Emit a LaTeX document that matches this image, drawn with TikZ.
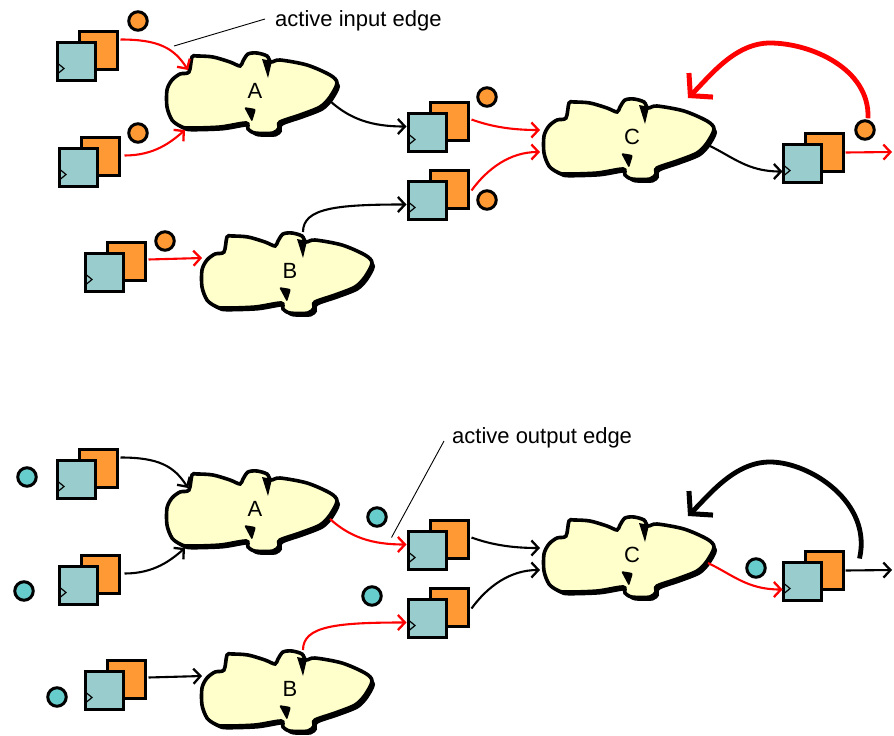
\documentclass[tikz,border=0pt]{standalone}
\usepackage{fontspec}
\setmainfont{Liberation Sans}
\usetikzlibrary{arrows.meta,calc}

\definecolor{regteal}{RGB}{153,204,204}
\definecolor{regorange}{RGB}{255,153,51}
\definecolor{tokteal}{RGB}{102,204,204}
\definecolor{logicyellow}{RGB}{255,255,204}
\definecolor{edgered}{RGB}{255,0,0}

\tikzset{
  regsq/.style={rectangle, draw=black, line width=3.2pt, minimum size=38pt,
    inner sep=0pt, outer sep=0pt, anchor=north west},
  token/.style={circle, draw=black, line width=3pt, minimum size=18.5pt, inner sep=0pt},
  lbl/.style={font=\fontsize{22}{26}\selectfont, inner sep=0pt},
  wire/.style={line width=2.1pt, -{Straight Barb[length=7pt,width=15pt,line width=2.3pt]}},
  loopback/.style={line width=4.8pt, -{Straight Barb[length=15pt,width=34pt,line width=5pt]}},
  leader/.style={line width=0.9pt},
  cloudpath/.pic={
    \path[pic actions] plot[smooth cycle, tension=0.5] coordinates {
      (-63,-34) (-66,-19) (-75,-17) (-83,-11) (-88,-1) (-88,16) (-83,29)
      (-75,35) (-67,37) (-35,36) (-9,32) (-7,38) (0,42) (18,42) (24,37)
      (25,31) (45,24) (65,16) (75,6) (82,-8) (75,-16) (52,-26) (25,-31)
      (16,-29) (12,-35) (2,-38) (-7,-37) (-12,-30) (-15,-25) (-25,-29)
      (-42,-34) (-58,-35)};
  },
}

% register: orange square behind, teal square in front with a clock mark
% #1 name, #2 #3 top-left corner of the front square
\newcommand{\regpair}[3]{%
  \node[regsq, fill=regorange] (#1q) at ({#2+23.5},{#3-9.5}) {};
  \node[regsq, fill=regteal] (#1) at ({#2+1.5},{#3+1.5}) {};
  \draw[line width=1.2pt] ($(#1.north west)+(0.5,21)$) -- ++(6,5) -- ++(-6,5);
}

% combinational logic cloud: #1 node name, #2 label, #3 #4 centre
\newcommand{\logicblob}[4]{%
  \pic[fill=black] at ({#3+3},{#4+3.5}) {cloudpath};
  \pic[fill=logicyellow, draw=black, line width=3.6pt] at (#3,#4) {cloudpath};
  \begin{scope}[shift={(#3,#4)}]
    \fill[black] (7,-32) -- (17,-30) -- (13,-13) -- cycle;
    \fill[black, rounded corners=2pt] (-11,16) -- (1,18) -- (-3,31) -- cycle;
  \end{scope}
  \node[lbl] (#1) at (#3,#4) {#2};
}

% one pipeline snapshot: #1 prefix, #2 vertical offset,
% #3 colour of register-to-logic edges, #4 colour of logic-to-register edges
\newcommand{\pipestage}[4]{%
  \begin{scope}[shift={(0,#2)}]
    \logicblob{#1A}{A}{255}{91}
    \logicblob{#1B}{B}{290}{271}
    \logicblob{#1C}{C}{632}{137}
    \regpair{#1r1}{56}{41}
    \regpair{#1r2}{58}{147}
    \regpair{#1rb}{84}{252}
    \regpair{#1m1}{407}{112}
    \regpair{#1m2}{407}{180}
    \regpair{#1rr}{782}{143}
    \coordinate (#1out) at (892,152);
  \end{scope}
  % register outputs into logic
  \draw[wire, #3] ($(#1r1q.north east)+(3,8)$) .. controls +(38,0) and +(-14,-22) .. ($(#1A)+(-67,-21)$);
  \draw[wire, #3] ($(#1r2q.north east)+(5,18)$) .. controls +(30,0) and +(-14,12) .. ($(#1A)+(-70,39)$);
  \draw[wire, #3] ($(#1rbq.north east)+(3,17)$) -- ($(#1B)+(-88,-13)$);
  \draw[wire, #3] ($(#1m1q.north east)+(3,17)$) .. controls +(22,8) and +(-25,0) .. ($(#1C)+(-92,-7)$);
  \draw[wire, #3] ($(#1m2q.north east)+(3,20)$) .. controls +(16,-22) and +(-30,0) .. ($(#1C)+(-92,15)$);
  \draw[wire, #3] ($(#1rrq.east)+(2,0)$) -- (#1out);
  % logic outputs into registers
  \draw[wire, #4] ($(#1A)+(75,10)$) .. controls +(20,18) and +(-35,0) .. ($(#1m1.west)+(-2,-6)$);
  \draw[wire, #4] ($(#1B)+(13,-39)$) .. controls +(0,-24) and +(-70,0) .. ($(#1m2.west)+(-2,4)$);
  \draw[wire, #4] ($(#1C)+(76,8)$) .. controls +(25,12) and +(-35,0) .. ($(#1rr.west)+(-1,8)$);
}

\begin{document}
\begin{tikzpicture}[x=1pt, y=-1pt]
  \useasboundingbox (0,0) rectangle (894,736);
  \fill[white] (0,0) rectangle (894,736);

  % ---------- upper snapshot: active input edge ----------
  \pipestage{t}{0}{edgered}{black}
  \foreach \n/\x/\y in {1/138/21, 2/138/133, 3/165/241, 4/487/97, 5/487/200, 6/865/130}
    \node[token, fill=regorange] (ttk\n) at (\x,\y) {};
  \draw[loopback, edgered] ($(ttk6.north)+(3,-1)$) .. controls +(2,-50) and +(40,0) .. ($(tC)+(138,-94)$)
    .. controls +(-35,0) and +(22,-22) .. ($(tC)+(56,-39)$);
  \node[lbl, anchor=base west] (inlbl) at (275,27) {active input edge};
  \draw[leader] ($(inlbl.base west)+(-10,-8)$) -- ($(tA)+(-81,-45)$);

  % ---------- lower snapshot: active output edge ----------
  \pipestage{b}{418}{black}{edgered}
  \foreach \n/\x/\y in {1/27/477, 2/24/591, 3/57/697, 4/377/517, 5/372/596, 6/756/568}
    \node[token, fill=tokteal] (btk\n) at (\x,\y) {};
  \draw[loopback, black] ($(brrq.north east)+(16,7)$) .. controls +(13,-56) and +(40,0) .. ($(bC)+(138,-93)$)
    .. controls +(-35,0) and +(22,-22) .. ($(bC)+(56,-39)$);
  \node[lbl, anchor=base west] (outlbl) at (452,443) {active output edge};
  \draw[leader] ($(outlbl.base west)+(-8,-2)$) -- ($(bm1.west)+(-17,-13)$);
\end{tikzpicture}
\end{document}
